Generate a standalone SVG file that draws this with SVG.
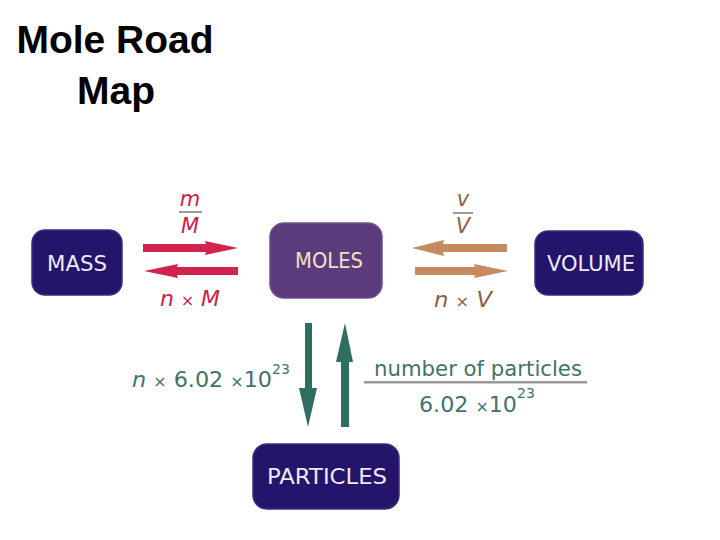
<svg xmlns="http://www.w3.org/2000/svg" width="720" height="540" viewBox="0 0 720 540">
<style>
.title{font-family:"Liberation Sans",Arial,sans-serif;font-weight:bold;font-size:39px;fill:#000;text-anchor:middle}
.box{fill:#24146a;stroke:#3a2c80;stroke-width:1.5}
.moles{fill:#5c3b7d;stroke:#6e5090;stroke-width:1.5}
.lbl{font-family:"DejaVu Sans",Verdana,sans-serif;font-size:21px;text-anchor:middle;fill:#ecebf2}
.math{font-family:"DejaVu Sans",Verdana,sans-serif;font-size:21px;text-anchor:middle}
.it{font-style:italic}
.red{fill:#d0234d}
.brown{fill:#c68a60}
.green{fill:#2f6d60}
.rt{fill:#cc2248}
.bt{fill:#8d5e45}
.gt{fill:#42736a}
.sup{font-size:14px}
.x{font-size:15px}
</style>
<text class="title" x="115" y="53">Mole Road</text>
<text class="title" x="116" y="104">Map</text>

<g id="mass"><rect class="box" x="32" y="230" width="90" height="65" rx="13"/><text class="lbl" x="77" y="271" textLength="60" lengthAdjust="spacingAndGlyphs">MASS</text></g>
<g id="moles"><rect class="moles" x="270" y="223" width="112" height="75" rx="14"/><text class="lbl" x="329" y="268" style="fill:#f1e2c4" textLength="68" lengthAdjust="spacingAndGlyphs">MOLES</text></g>
<g id="volume"><rect class="box" x="535" y="231" width="108" height="64" rx="13"/><text class="lbl" x="591" y="271" textLength="88" lengthAdjust="spacingAndGlyphs">VOLUME</text></g>
<g id="particles"><rect class="box" x="253" y="444" width="146" height="65" rx="14"/><text class="lbl" x="327" y="484" textLength="120" lengthAdjust="spacingAndGlyphs">PARTICLES</text></g>

<g id="connectors">
<polygon class="red" points="143,244 206,244 205,241 238,248 205,255 206,252 143,252"/>
<polygon class="red" points="238,267 177,267 178,264 144,271 178,278 177,275 238,275"/>
<polygon class="brown" points="507,244 443,244 444,240 412,248 444,256 443,252 507,252"/>
<polygon class="brown" points="415,267 475,267 474,264 508,271 474,278 475,275 415,275"/>
<polygon class="green" points="305,323 312,323 312,388 317,388 308,427 299,388 305,388"/>
<polygon class="green" points="341,427 349,427 349,362 353,362 345,323 336,362 341,362"/>
</g>

<g id="labels">
<text class="math it rt" x="190" y="206">m</text>
<rect x="179" y="211" width="23" height="2" fill="#9a9a9a"/>
<text class="math it rt" x="190" y="233">M</text>
<text class="math rt" x="190" y="306" textLength="60" lengthAdjust="spacingAndGlyphs"><tspan class="it">n</tspan> <tspan class="x">×</tspan> <tspan class="it">M</tspan></text>

<text class="math it bt" x="463" y="206">v</text>
<rect x="453" y="212" width="20" height="2" fill="#9a9a9a"/>
<text class="math it bt" x="463" y="233">V</text>
<text class="math bt" x="463" y="307" textLength="58" lengthAdjust="spacingAndGlyphs"><tspan class="it">n</tspan> <tspan class="x">×</tspan> <tspan class="it">V</tspan></text>

<text class="math gt" x="132" y="387" style="text-anchor:start" textLength="140" lengthAdjust="spacingAndGlyphs"><tspan class="it">n</tspan> <tspan class="x">×</tspan> 6.02 <tspan class="x">×</tspan>10</text>
<text class="math gt sup" x="272" y="374" style="text-anchor:start">23</text>

<text class="math gt" x="478" y="376" textLength="208" lengthAdjust="spacingAndGlyphs">number of particles</text>
<rect x="364" y="381" width="223" height="2.5" fill="#9a9a9a"/>
<text class="math gt" x="419" y="412" style="text-anchor:start" textLength="98" lengthAdjust="spacingAndGlyphs">6.02 <tspan class="x">×</tspan>10</text>
<text class="math gt sup" x="517" y="398" style="text-anchor:start">23</text>
</g>
</svg>
